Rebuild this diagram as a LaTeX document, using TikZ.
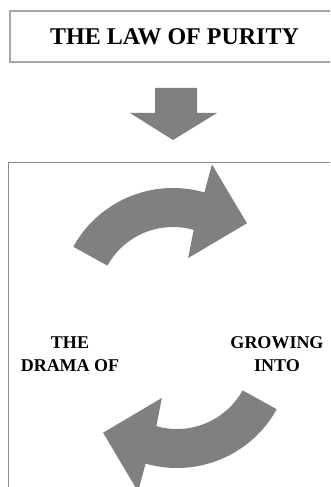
\documentclass[tikz,border=0pt]{standalone}
\usepackage{fontspec}
\setmainfont{Liberation Serif}
\usepackage{xcolor}
\definecolor{ArrowGray}{HTML}{808080}
\definecolor{FrameLight}{HTML}{A6A6A6}
\definecolor{FrameDark}{HTML}{8C8C8C}
\usetikzlibrary{calc}

\begin{document}
\begin{tikzpicture}[
  x=0.75pt, y=0.75pt,
  % Rahmen der Titelbox
  titleframe/.style={
    draw=FrameLight,
    line width=0.9pt
  },
  % Großer Rahmen unten
  bigframe/.style={
    draw=FrameDark,
    line width=1.2pt
  },
  % Blockpfeile
  blockarrow/.style={
    fill=ArrowGray,
    draw=none
  },
  % Beschriftungen
  lbl/.style={
    font=\fontsize{13.5}{17.2}\selectfont\bfseries,
    align=center,
    inner sep=0pt
  }
]

% =============================================================================
% HINTERGRUND
% =============================================================================
\useasboundingbox (0,0) rectangle (330,487);
\fill[white] (0,0) rectangle (330,487);
\clip (0,0) rectangle (330,487);

% =============================================================================
% TITEL
% =============================================================================
\draw[titleframe] (10,425) rectangle (345,476);
\node[font=\fontsize{18}{22}\selectfont\bfseries, inner sep=0pt, anchor=base] (title) at (174.5,442) {THE LAW OF PURITY};

% Pfeil nach unten
\fill[blockarrow] (155,399) -- (197,399) -- (197,374) -- (217,374)
  -- (173,347) -- (130,374) -- (155,374) -- cycle;

% =============================================================================
% KREISLAUF
% =============================================================================
\draw[bigframe] (8.5,324.5) rectangle (345,-10);

\coordinate (upper) at (173,185);
\coordinate (lower) at (177,133);

% Oberer Bogenpfeil
\fill[blockarrow] ($(upper)+(151:114)$) arc[start angle=151, end angle=74, radius=114]
  -- ($(upper)+(74.2:143)$) -- ($(upper)+(46.8:108)$) -- ($(upper)+(71:46.5)$)
  -- ($(upper)+(74:75)$) arc[start angle=74, end angle=151, radius=75] -- cycle;

% Unterer Bogenpfeil
\fill[blockarrow] ($(lower)+(331:114)$) arc[start angle=331, end angle=254, radius=114]
  -- ($(lower)+(254.2:143)$) -- ($(lower)+(226.8:108)$) -- ($(lower)+(251:46.5)$)
  -- ($(lower)+(254:75)$) arc[start angle=254, end angle=331, radius=75] -- cycle;

% Texte links und rechts
\node[lbl, anchor=base] (drama) at (70,116) {THE\\DRAMA OF};
\node[lbl, anchor=base] (growing) at (277,116) {GROWING\\INTO};

\end{tikzpicture}
\end{document}
